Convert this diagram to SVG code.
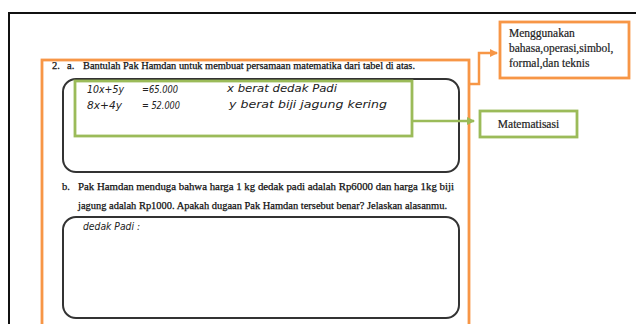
<svg xmlns="http://www.w3.org/2000/svg" width="636" height="324" viewBox="0 0 636 324">
<style>
.pr{font-family:"Liberation Serif","Times New Roman",serif;font-size:10.5px;fill:#111;stroke:#111;stroke-width:0.25}
.hw{font-family:"DejaVu Sans","Liberation Sans",sans-serif;font-size:10.5px;fill:#222;font-style:italic;font-weight:300}
.lbl{font-family:"Liberation Serif","Times New Roman",serif;font-size:11.5px;fill:#222;stroke:#222;stroke-width:0.2}
.or{fill:none;stroke:#f79646;stroke-width:2.8}
.gr{fill:none;stroke:#9bbb59;stroke-width:2.8}
.bx{fill:none;stroke:#333;stroke-width:2}
</style>
<defs>
<marker id="aO" markerWidth="8" markerHeight="8" refX="7" refY="4" orient="auto" markerUnits="userSpaceOnUse"><path d="M0,0 L8,4 L0,8 Z" fill="#f79646"/></marker>
<marker id="aG" markerWidth="8" markerHeight="8" refX="7" refY="4" orient="auto" markerUnits="userSpaceOnUse"><path d="M0,0 L8,4 L0,8 Z" fill="#9bbb59"/></marker>
</defs>
<rect width="636" height="324" fill="#fff"/>
<g id="page">
<path d="M9,324 L9,13 L636,13" fill="none" stroke="#111" stroke-width="2"/>
</g>
<g id="soal">
<rect class="or" x="42" y="60" width="427" height="270"/>
<text class="pr" x="52" y="68.5">2.</text>
<text class="pr" x="67" y="68.5">a.</text>
<text class="pr" x="83" y="68.5" textLength="332" lengthAdjust="spacingAndGlyphs">Bantulah Pak Hamdan untuk membuat persamaan matematika dari tabel di atas.</text>
<rect class="bx" x="63" y="79" width="396" height="93" rx="13"/>
<text class="pr" x="62" y="190">b.</text>
<text class="pr" x="78" y="190" textLength="376" lengthAdjust="spacingAndGlyphs">Pak Hamdan menduga bahwa harga 1 kg dedak padi adalah Rp6000 dan harga 1kg biji</text>
<text class="pr" x="78" y="209" textLength="369" lengthAdjust="spacingAndGlyphs">jagung adalah Rp1000. Apakah dugaan Pak Hamdan tersebut benar? Jelaskan alasanmu.</text>
<rect class="bx" x="63" y="217" width="396" height="101" rx="13"/>
<text class="hw" x="83" y="230" textLength="57" lengthAdjust="spacingAndGlyphs">dedak Padi :</text>
</g>
<g id="jawaban">
<rect class="gr" x="75" y="81" width="337" height="55"/>
<text class="hw" x="87" y="93" textLength="37" lengthAdjust="spacingAndGlyphs">10x+5y</text>
<text class="hw" x="142" y="93" textLength="36" lengthAdjust="spacingAndGlyphs">=65.000</text>
<text class="hw" x="227" y="92" textLength="110" lengthAdjust="spacingAndGlyphs">x berat dedak Padi</text>
<text class="hw" x="87" y="109" textLength="35" lengthAdjust="spacingAndGlyphs">8x+4y</text>
<text class="hw" x="142" y="109" textLength="38" lengthAdjust="spacingAndGlyphs">= 52.000</text>
<text class="hw" x="229" y="108" textLength="158" lengthAdjust="spacingAndGlyphs">y berat biji jagung kering</text>
</g>
<g id="menggunakan">
<rect class="or" x="500" y="22" width="129" height="56"/>
<text class="lbl" x="509" y="37">Menggunakan</text>
<text class="lbl" x="509" y="52">bahasa,operasi,simbol,</text>
<text class="lbl" x="509" y="67">formal,dan teknis</text>
</g>
<g id="matematisasi">
<rect class="gr" x="480" y="111" width="97" height="26"/>
<text class="lbl" x="528.5" y="127.5" text-anchor="middle">Matematisasi</text>
</g>
<g id="connectors">
<path d="M470,84 L479,84 L479,53 L497,53" fill="none" stroke="#f79646" stroke-width="2.5" marker-end="url(#aO)"/>
<path d="M413,121 L474,121" fill="none" stroke="#9bbb59" stroke-width="2.5" marker-end="url(#aG)"/>
</g>
</svg>
